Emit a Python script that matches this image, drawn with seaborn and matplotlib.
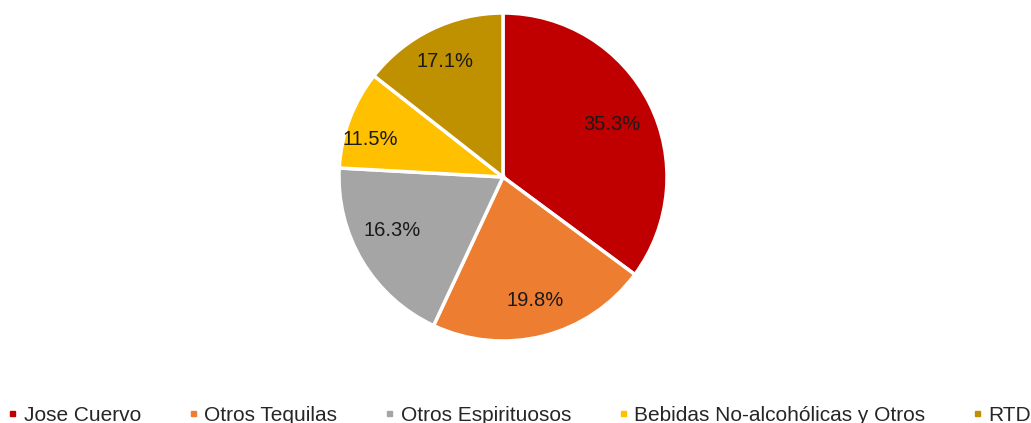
import matplotlib
matplotlib.use("Agg")
import matplotlib.pyplot as plt
from matplotlib.lines import Line2D
import numpy as np
import seaborn as sns

categories = ["Jose Cuervo", "Otros Tequilas", "Otros Espirituosos",
              "Bebidas No-alcohólicas y Otros", "RTD"]
# slice sizes as drawn in the picture (angular share, %)
slice_shares = [35.1, 21.8, 18.9, 9.7, 14.4]
# label texts printed on the slices
pct_labels = ["35.3%", "19.8%", "16.3%", "11.5%", "17.1%"]
colors = ["#C00000", "#ED7D31", "#A5A5A5", "#FFC000", "#BF9000"]
label_dist = [0.74, 0.78, 0.75, 0.84, 0.79]
label_turn = [-1.0, 0.5, -5.0, 5.0, 0.8]  # degrees

sns.set_theme(style="white")
plt.rcParams['font.family'] = ['Liberation Sans', 'DejaVu Sans']

fig = plt.figure(figsize=(10.31, 4.23), dpi=100)
W, H = 1031, 423
cx, cy, r = 503, 177, 164
ax = fig.add_axes([(cx - r) / W, (H - cy - r) / H, 2 * r / W, 2 * r / H])

lab_iter = iter(pct_labels)
wedges, texts, autotexts = ax.pie(
    slice_shares, colors=colors, startangle=90, counterclock=False,
    autopct=lambda p: next(lab_iter), pctdistance=0.77,
    wedgeprops=dict(edgecolor="white", linewidth=2.5),
    textprops=dict(fontsize=14.5, color="#1a1a1a"), frame=False)
for t, d, turn in zip(autotexts, label_dist, label_turn):
    x, y = t.get_position()
    a = np.arctan2(y, x) + np.deg2rad(turn)
    t.set_position((d * np.cos(a), d * np.sin(a)))
ax.set_xlim(-1, 1)
ax.set_ylim(-1, 1)
ax.set_aspect("auto")
ax.axis("off")

handles = [Line2D([0], [0], marker="s", linestyle="none", markersize=3.6,
                  markerfacecolor=c, markeredgecolor=c) for c in colors]
fig.legend(handles, categories, loc="lower left", ncol=5, mode="expand",
           bbox_to_anchor=(0.007, -0.004, 0.993, 0.06), frameon=False,
           fontsize=15, handlelength=0.5, handletextpad=0.3,
           borderaxespad=0, borderpad=0)

fig.savefig("out.png", dpi=100)
